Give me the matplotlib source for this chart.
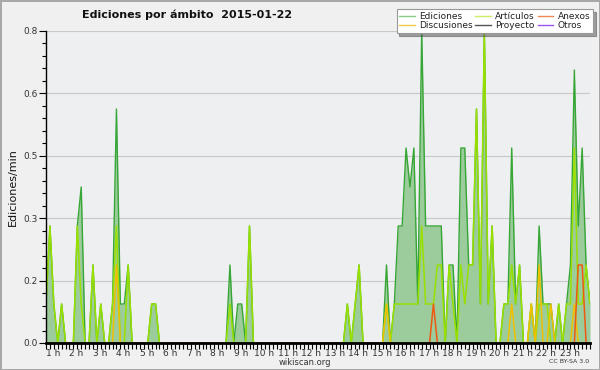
import numpy as np
import matplotlib
matplotlib.use("Agg")
import matplotlib.pyplot as plt
from matplotlib.lines import Line2D
from matplotlib.ticker import FixedLocator, FuncFormatter, MultipleLocator
import matplotlib.transforms as mtransforms

# ediciones por intervalo de 10 minutos, desde 00:50 hasta 24:00
total = [1, 3, 1, 0, 1, 0, 0, 0, 3, 4, 0, 0, 2, 0, 1, 0, 0, 1, 6, 1,
         1, 2, 0, 0, 0, 0, 0, 1, 1, 0, 0, 0, 0, 0, 0, 0, 0, 0, 0, 0,
         0, 0, 0, 0, 0, 0, 0, 2, 0, 1, 1, 0, 3, 0, 0, 0, 0, 0, 0, 0,
         0, 0, 0, 0, 0, 0, 0, 0, 0, 0, 0, 0, 0, 0, 0, 0, 0, 1, 0, 1,
         2, 0, 0, 0, 0, 0, 0, 2, 0, 1, 3, 3, 5, 4, 5, 1, 8, 3, 3, 3,
         3, 3, 0, 2, 2, 0, 5, 5, 2, 2, 6, 1, 8, 1, 3, 0, 0, 1, 1, 5,
         1, 2, 0, 0, 1, 0, 3, 1, 1, 1, 0, 1, 0, 1, 2, 7, 3, 5, 2, 1]
articulos = [1, 3, 1, 0, 1, 0, 0, 0, 3, 1, 0, 0, 2, 0, 1, 0, 0, 1, 3, 0,
             0, 2, 0, 0, 0, 0, 0, 1, 1, 0, 0, 0, 0, 0, 0, 0, 0, 0, 0, 0,
             0, 0, 0, 0, 0, 0, 0, 1, 0, 0, 0, 0, 3, 0, 0, 0, 0, 0, 0, 0,
             0, 0, 0, 0, 0, 0, 0, 0, 0, 0, 0, 0, 0, 0, 0, 0, 0, 1, 0, 1,
             2, 0, 0, 0, 0, 0, 0, 1, 0, 1, 1, 1, 1, 1, 1, 1, 3, 1, 1, 1,
             2, 2, 0, 2, 1, 0, 2, 1, 2, 2, 6, 1, 8, 1, 3, 0, 0, 1, 1, 2,
             1, 2, 0, 0, 1, 0, 1, 1, 1, 0, 0, 1, 0, 1, 1, 5, 1, 1, 2, 1]
discusiones = [0] * 140
for i, v in [(18, 2), (87, 1), (119, 1), (124, 1), (126, 2), (129, 1), (135, 1)]:
    discusiones[i] = v
anexos = [0] * 140
for i, v in [(99, 1), (136, 2), (137, 2)]:
    anexos[i] = v
proyecto = [0] * 140
otros = [0] * 140

horas = list(range(1, 24))

x = 50 / 60 + np.arange(len(total)) / 6
per_min = lambda s: np.array(s) / 10.0

fig = plt.figure(figsize=(6, 3.7), dpi=100)
fig.patch.set_facecolor("#f0f0f0")
fig.patch.set_edgecolor("#a8a8a8")
fig.patch.set_linewidth(2)
ax = fig.add_axes([46 / 600, 1 - 343 / 370, 544 / 600, 312 / 370])
ax.set_facecolor("#eeeff1")

ax.fill_between(x, per_min(total), color="#9ccb9c", lw=0, zorder=1)
ax.plot(x, per_min(proyecto), color="#555555", lw=1, zorder=0.5)
ax.plot(x, per_min(otros), color="#9955ee", lw=1, zorder=0.5)
ax.plot(x, per_min(total), color="#36a636", lw=1, zorder=2)
ax.plot(x, per_min(articulos), color="#99e000", lw=1.1, zorder=3)
ax.plot(x, per_min(discusiones), color="#eec000", lw=1.1, zorder=4)
ax.plot(x, per_min(anexos), color="#ee5a10", lw=1.1, zorder=5)

ax.set_xlim(x[0], x[-1])
ax.set_ylim(0, 0.8)

ax.yaxis.set_major_locator(FixedLocator(np.arange(0, 0.81, 0.16)))
ax.yaxis.set_minor_locator(MultipleLocator(0.032))
ax.yaxis.set_major_formatter(FuncFormatter(lambda v, p: "%.1f" % v))
ax.set_xticks(horas)
ax.set_xticklabels(["%d h" % h for h in horas])
ax.xaxis.set_minor_locator(MultipleLocator(1 / 6))
ax.tick_params(axis="both", which="both", direction="out", color="black",
               width=0.8, labelsize=6.5, labelcolor="#333333")
ax.tick_params(axis="y", which="major", length=5, pad=1)
ax.tick_params(axis="y", which="minor", length=3)
ax.tick_params(axis="x", which="both", length=4, pad=0)
off = mtransforms.ScaledTranslation(3 / 100, 0, fig.dpi_scale_trans)
for lab in ax.get_xticklabels():
    lab.set_transform(lab.get_transform() + off)

ax.grid(axis="y", which="major", color="#c8c8c8", lw=0.8)
ax.set_axisbelow(True)
for s in ["top", "right"]:
    ax.spines[s].set_visible(False)
ax.spines["left"].set_linewidth(1)
ax.spines["bottom"].set_linewidth(2)
for s in ["left", "bottom"]:
    ax.spines[s].set_zorder(6)

ax.set_ylabel("Ediciones/min", fontsize=8, color="#111111", labelpad=4)
fig.text(0.312, 0.959, "Ediciones por ámbito  2015-01-22", fontsize=8,
         fontweight="bold", ha="center", va="center", color="#111111")
fig.text(0.508, 0.02, "wikiscan.org", fontsize=6, ha="center",
         va="center", color="#333333")
fig.text(0.982, 0.022, "CC BY-SA 3.0", fontsize=4.5, ha="right",
         va="center", color="#333333")

handles = [
    Line2D([], [], color="#88cc88", lw=1, label="Ediciones"),
    Line2D([], [], color="#eecc44", lw=1, label="Discusiones"),
    Line2D([], [], color="#ccee66", lw=1, label="Artículos"),
    Line2D([], [], color="#555555", lw=1, label="Proyecto"),
    Line2D([], [], color="#ee8855", lw=1, label="Anexos"),
    Line2D([], [], color="#9955ee", lw=1, label="Otros"),
]
leg = fig.legend(handles=handles, ncol=3, loc="upper right",
                 bbox_to_anchor=(0.988, 0.975), fontsize=6.5, frameon=True,
                 fancybox=False, shadow=True, edgecolor="#999999",
                 facecolor="white", framealpha=1, handlelength=1.7,
                 handletextpad=0.5, columnspacing=0.3, labelspacing=0.05,
                 borderpad=0.3, borderaxespad=0)
leg.get_frame().set_linewidth(0.8)
for t in leg.get_texts():
    t.set_color("#222222")

fig.savefig("out.png", dpi=100, facecolor=fig.get_facecolor(),
            edgecolor=fig.get_edgecolor())
